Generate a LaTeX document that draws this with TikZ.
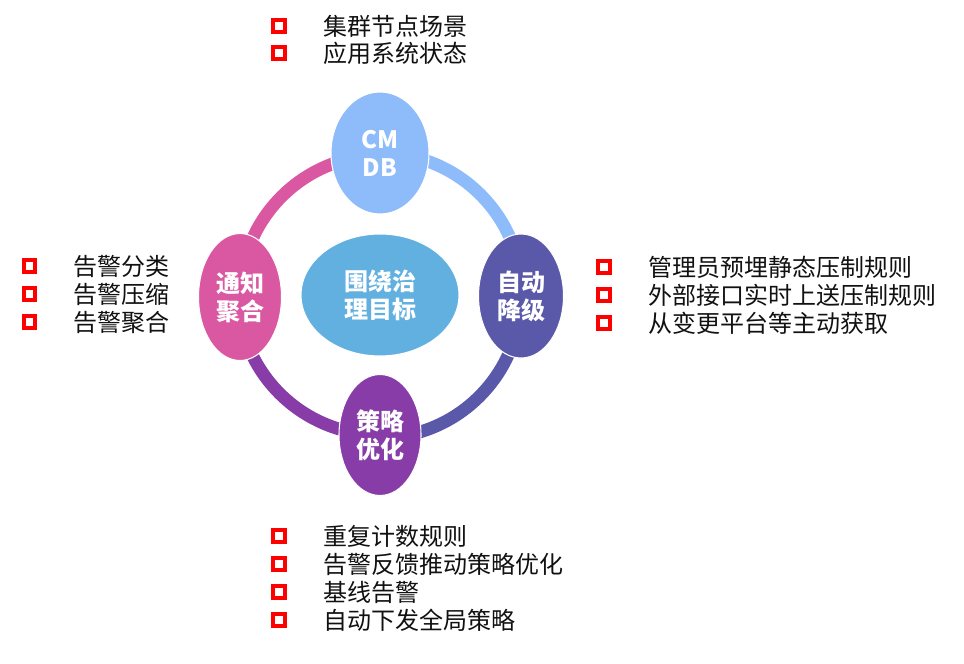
\documentclass[tikz,border=0pt]{standalone}
\usepackage{fontspec}
\newfontfamily\cjk{Noto Sans CJK SC}
\usetikzlibrary{calc,positioning,shapes.geometric,shadows,backgrounds}
\definecolor{RingSky}{HTML}{8EBBFA}
\definecolor{RingCore}{HTML}{62B0E0}
\definecolor{RingIndigo}{HTML}{5A58A9}
\definecolor{RingViolet}{HTML}{873CA8}
\definecolor{RingRose}{HTML}{D958A1}
\definecolor{BulletRed}{HTML}{FF0000}
\definecolor{ItemInk}{HTML}{111111}
\tikzset{
  phase/.style={
    ellipse,
    draw=white,
    line width=0.8pt,
    inner sep=0pt,
    text=white,
    font=\cjk\bfseries\fontsize{18}{21}\selectfont,
    align=center
  },
  ring/.style={
    line width=9.5pt
  },
  bullet/.style={
    rectangle,
    draw=BulletRed,
    fill=white,
    line width=3.2pt,
    minimum size=8.5pt,
    inner sep=0pt,
    drop shadow={shadow xshift=1.6pt,shadow yshift=-1.6pt,opacity=0.3,fill=black}
  },
  item/.style={
    inner sep=0pt,
    font=\cjk\fontsize{18}{22}\selectfont,
    text=ItemInk
  }
}

\begin{document}
\begin{tikzpicture}[x=0.75pt,y=-0.75pt]
  \useasboundingbox (0,0) rectangle (964,664);
  \coordinate (hub) at (380,295);

  % Four stages sit on one ring around the shared goal.
  \node[phase,fill=RingCore,minimum width=118.5pt,minimum height=91.5pt]
    (core) at (hub) {围绕治\\理目标};
  \node[phase,fill=RingSky,minimum width=73.5pt,minimum height=91.5pt]
    (cmdb) at ($(hub)+(0,-142)$) {CM\\DB};
  \node[phase,fill=RingIndigo,minimum width=63.75pt,minimum height=93pt]
    (degrade) at ($(hub)+(141,1)$) {自动\\降级};
  \node[phase,fill=RingViolet,minimum width=61.5pt,minimum height=90.75pt]
    (tune) at ($(hub)+(0,140)$) {策略\\优化};
  \node[phase,fill=RingRose,minimum width=62.25pt,minimum height=95.25pt]
    (notify) at ($(hub)+(-140,2)$) {通知\\聚合};

  % Each quarter of the ring takes the colour of the stage it leaves.
  \begin{scope}[on background layer]
    \draw[ring,RingSky] (cmdb.center) arc[start angle=270,end angle=360,radius=142];
    \draw[ring,RingIndigo] (degrade.center) arc[start angle=0,end angle=90,radius=142];
    \draw[ring,RingViolet] (tune.center) arc[start angle=90,end angle=180,radius=142];
    \draw[ring,RingRose] (notify.center) arc[start angle=180,end angle=270,radius=142];
  \end{scope}

  % Bullet lists next to every stage.
  \foreach \t [count=\i] in {集群节点场景,应用系统状态} {
    \node[bullet] (top-b\i) at (279,{26+27*(\i-1)}) {};
    \node[item,right=27pt of top-b\i] (top-t\i) {\t};
  }
  \foreach \t [count=\i] in {告警分类,告警压缩,告警聚合} {
    \node[bullet] (left-b\i) at (29.5,{266+28*(\i-1)}) {};
    \node[item,right=27pt of left-b\i] (left-t\i) {\t};
  }
  \foreach \t [count=\i] in {管理员预埋静态压制规则,外部接口实时上送压制规则,从变更平台等主动获取} {
    \node[bullet] (right-b\i) at (604,{267+28*(\i-1)}) {};
    \node[item,right=27pt of right-b\i] (right-t\i) {\t};
  }
  \foreach \t [count=\i] in {重复计数规则,告警反馈推动策略优化,基线告警,自动下发全局策略} {
    \node[bullet] (bottom-b\i) at (279,{536+28*(\i-1)}) {};
    \node[item,right=27pt of bottom-b\i] (bottom-t\i) {\t};
  }
\end{tikzpicture}
\end{document}
